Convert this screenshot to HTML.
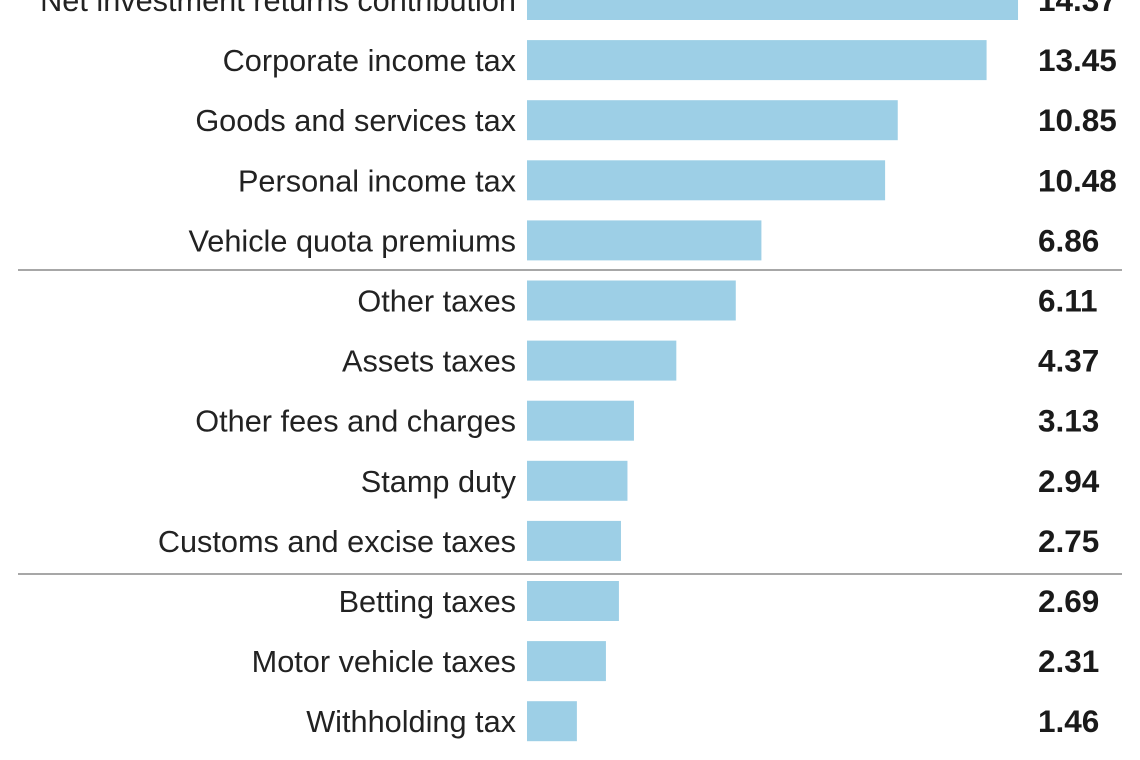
<!DOCTYPE html>
<html><head><meta charset="utf-8"><style>
html,body{margin:0;padding:0;background:#fff;}
svg{display:block;}
text{font-family:"Liberation Sans",sans-serif;}
</style></head><body>
<svg id="chart" width="1140" height="760" viewBox="0 0 1140 760">
<line x1="18" y1="270" x2="1122" y2="270" stroke="#8a8a8a" stroke-width="1.5"/>
<line x1="18" y1="574" x2="1122" y2="574" stroke="#8a8a8a" stroke-width="1.5"/>
<g id="bars"></g>
</svg>
<script>
const categories = ["Net investment returns contribution","Corporate income tax","Goods and services tax","Personal income tax","Vehicle quota premiums","Other taxes","Assets taxes","Other fees and charges","Stamp duty","Customs and excise taxes","Betting taxes","Motor vehicle taxes","Withholding tax"];
const values = [14.37,13.45,10.85,10.48,6.86,6.11,4.37,3.13,2.94,2.75,2.69,2.31,1.46];
const valueLabels = ["14.37","13.45","10.85","10.48","6.86","6.11","4.37","3.13","2.94","2.75","2.69","2.31","1.46"];

const x0 = 527, pxPerUnit = 34.17;
const xScale = v => x0 + v * pxPerUnit;
const yCenter = i => i * 60.1;
const barH = 40;
const NS = "http://www.w3.org/2000/svg";
const g = document.getElementById("bars");
categories.forEach((c, i) => {
  const cy = yCenter(i);
  const r = document.createElementNS(NS, "rect");
  
  
  r.setAttribute("x", x0);
  r.setAttribute("y", cy - barH / 2);
  r.setAttribute("width", xScale(values[i]) - x0);
  r.setAttribute("height", barH);
  r.setAttribute("fill", "#9dcfe6");
  g.appendChild(r);
  const t = document.createElementNS(NS, "text");
  
  
  t.setAttribute("x", 516);
  t.setAttribute("y", cy + 11);
  t.setAttribute("text-anchor", "end");
  t.setAttribute("font-size", "30.7");
  t.setAttribute("fill", "#222");
  t.textContent = c;
  g.appendChild(t);
  const v = document.createElementNS(NS, "text");
  
  
  v.setAttribute("x", 1038);
  v.setAttribute("y", cy + 11);
  v.setAttribute("font-size", "31.5");
  v.setAttribute("font-weight", "bold");
  v.setAttribute("fill", "#1a1a1a");
  v.textContent = valueLabels[i];
  g.appendChild(v);
});
</script>
</body></html>
